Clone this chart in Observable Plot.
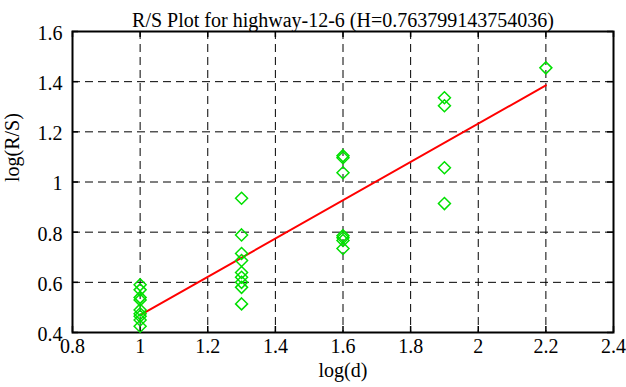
<!DOCTYPE html>
<html>
<head>
<meta charset="utf-8">
<script src="https://cdn.jsdelivr.net/npm/d3@7"></script>
<script src="https://cdn.jsdelivr.net/npm/@observablehq/plot@0.6"></script>
<style>
  html, body { margin: 0; padding: 0; background: #fff; }
  svg { display: block; }
</style>
</head>
<body>
<div id="chart"></div>
<script>
const title = "R/S Plot for highway-12-6 (H=0.763799143754036)";
const xLabel = "log(d)";
const yLabel = "log(R/S)";
const xTicks = [0.8, 1, 1.2, 1.4, 1.6, 1.8, 2, 2.2, 2.4];
const yTicks = [0.4, 0.6, 0.8, 1, 1.2, 1.4, 1.6];

// observed log(d) groups and log(R/S) values
const logD = [
  1, 1, 1, 1, 1, 1, 1, 1, 1,
  1.3, 1.3, 1.3, 1.3, 1.3, 1.3, 1.3, 1.3, 1.3,
  1.6, 1.6, 1.6, 1.6, 1.6, 1.6, 1.6,
  1.9, 1.9, 1.9, 1.9,
  2.2
];
const logRS = [
  0.59, 0.57, 0.54, 0.53, 0.49, 0.475, 0.465, 0.45, 0.425,
  0.935, 0.789, 0.715, 0.687, 0.639, 0.62, 0.60, 0.58, 0.514,
  1.105, 1.097, 1.037, 0.786, 0.778, 0.767, 0.735,
  1.336, 1.304, 1.057, 0.914,
  1.455
];
// fitted line
const H = 0.763799143754036;
const intercept = -0.295;
const fitX = [1, 2.2];

const points = logD.map((d, i) => ({x: d, y: logRS[i]}));
const fit = fitX.map(x => ({x, y: H * x + intercept}));

const W = 626, Ht = 387;
const mT = 31, mB = 55, mL = 72, mR = 13;
const innerH = Ht - mT - mB, innerW = W - mL - mR;
const font = "Liberation Serif";

const chart = Plot.plot({
  width: W,
  height: Ht,
  marginTop: mT,
  marginBottom: mB,
  marginLeft: mL,
  marginRight: mR,
  style: {fontFamily: font, fontSize: "20px", color: "#000", background: "#fff"},
  x: {domain: [0.8, 2.4], axis: null},
  y: {domain: [0.4, 1.6], axis: null},
  marks: [
    Plot.gridX(xTicks, {stroke: "#000", strokeOpacity: 1, strokeWidth: 1, strokeDasharray: "8,5"}),
    Plot.gridY(yTicks, {stroke: "#000", strokeOpacity: 1, strokeWidth: 1, strokeDasharray: "8,5"}),
    // inward ticks
    Plot.tickX(xTicks, {x: d => d, stroke: "#000", strokeWidth: 1.5, insetTop: innerH - 6}),
    Plot.tickX(xTicks, {x: d => d, stroke: "#000", strokeWidth: 1.5, insetBottom: innerH - 6}),
    Plot.tickY(yTicks, {y: d => d, stroke: "#000", strokeWidth: 1.5, insetRight: innerW - 6}),
    Plot.tickY(yTicks, {y: d => d, stroke: "#000", strokeWidth: 1.5, insetLeft: innerW - 6}),
    // tick labels
    Plot.text(xTicks, {x: d => d, text: d => String(d), frameAnchor: "bottom", dy: 20, fontSize: 20, fill: "#000", fontFamily: font}),
    Plot.text(yTicks, {y: d => d, text: d => String(d), frameAnchor: "left", textAnchor: "end", dx: -10, dy: 2, fontSize: 20, fill: "#000", fontFamily: font}),
    Plot.frame({stroke: "#000", strokeWidth: 2}),
    Plot.line(fit, {x: "x", y: "y", stroke: "#ff0000", strokeWidth: 2}),
    Plot.dot(points, {x: "x", y: "y", symbol: "diamond2", r: 5.4, stroke: "#00e000", strokeWidth: 1.5, fill: "none"}),
    Plot.text([title], {frameAnchor: "top", dy: -19, fontSize: 20, fill: "#000", fontFamily: font}),
    Plot.text([xLabel], {frameAnchor: "bottom", dy: 44, fontSize: 20, fill: "#000", fontFamily: font}),
    Plot.text([yLabel], {frameAnchor: "left", dx: -60, rotate: -90, fontSize: 20, fill: "#000", fontFamily: font})
  ]
});
document.getElementById("chart").appendChild(chart);
</script>
</body>
</html>
